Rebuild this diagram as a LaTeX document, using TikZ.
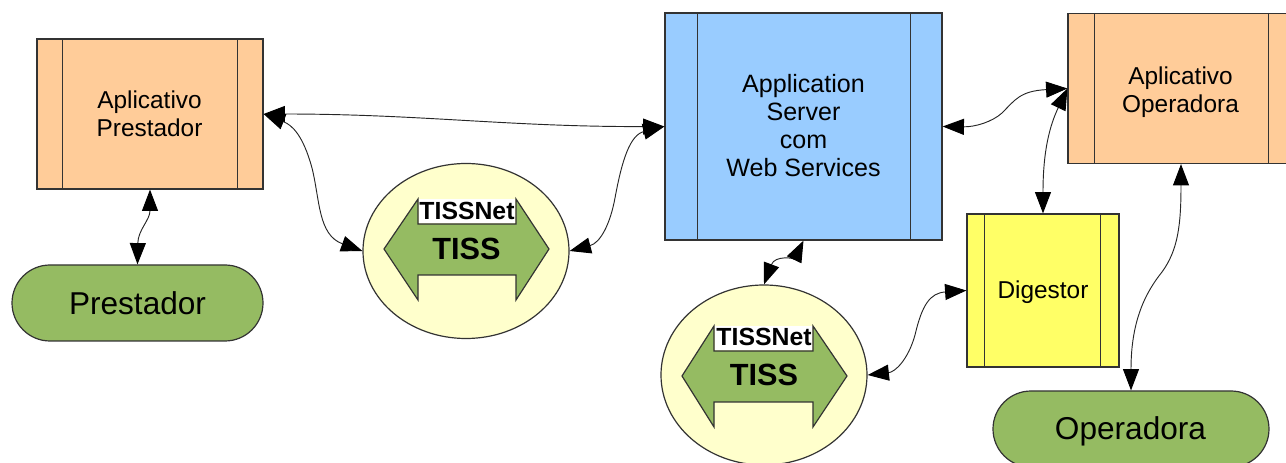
\documentclass[tikz,border=0pt]{standalone}
\usepackage{fontspec}
\setmainfont{Liberation Sans}
\usetikzlibrary{arrows.meta,shapes.geometric,shapes.misc,calc}
\definecolor{orangebox}{HTML}{FFCC99}
\definecolor{bluebox}{HTML}{99CCFF}
\definecolor{yellowbox}{HTML}{FFFF66}
\definecolor{creamfill}{HTML}{FFFFCC}
\definecolor{greenfill}{HTML}{95BB62}
\definecolor{edgegrey}{HTML}{333333}
\newcommand{\sidebars}[3]{\draw[boxedge] ($(#1.north west)+(#2,0)$) -- ($(#1.south west)+(#2,0)$);
  \draw[boxedge] ($(#1.north east)-(#3,0)$) -- ($(#1.south east)-(#3,0)$);}
\tikzset{
  x=0.75pt,y=-0.75pt,
  boxedge/.style={draw=edgegrey,line width=0.9pt},
  procbox/.style={boxedge,rectangle,inner sep=0pt,align=center},
  boxtext/.style={inner sep=0pt,align=center,font=\fontsize{18.3}{21}\selectfont},
  pill/.style={boxedge,rounded rectangle,fill=greenfill,inner sep=0pt},
  pilltext/.style={inner sep=0pt,font=\fontsize{23.7}{28}\selectfont},
  bubble/.style={draw=edgegrey,line width=0.9pt,ellipse,fill=creamfill,inner sep=0pt},
  link/.style={draw=black!85,line width=0.7pt,{Triangle[length=16pt,width=12pt,color=black]}-{Triangle[length=16pt,width=12pt,color=black]}},
  netlabel/.style={font=\fontsize{18.6}{20}\bfseries\selectfont,inner sep=0pt},
  tisslabel/.style={font=\fontsize{23}{26}\bfseries\selectfont,inner sep=0pt},
  band/.style={draw=edgegrey,line width=0.9pt,fill=greenfill,line join=miter},
}
\begin{document}
\begin{tikzpicture}
\useasboundingbox (0,0) rectangle (1286,463);
\clip (0,0) rectangle (1286,463);
% boxes
\node[procbox,fill=orangebox,minimum width=169.5pt,minimum height=112.5pt] (ap) at (150,114) {};
\node[procbox,fill=bluebox,minimum width=207.75pt,minimum height=170.25pt] (as) at (803.5,126.5) {};
\node[procbox,fill=orangebox,minimum width=169.5pt,minimum height=112.5pt] (ao) at (1181,88.5) {};
\node[procbox,fill=yellowbox,minimum width=114pt,minimum height=114.75pt] (dg) at (1043,290.5) {};
\sidebars{ap}{26}{26}
\sidebars{as}{33}{32}
\sidebars{ao}{27}{26}
\sidebars{dg}{18}{19}
\node[boxtext] (aptext) at (149.5,114) {Aplicativo\\Prestador};
\node[boxtext,font=\fontsize{18.8}{21}\selectfont] (astext) at (803.5,126) {Application\\Server\\com\\Web Services};
\node[boxtext] (aotext) at (1180.5,92) {Aplicativo\\Operadora};
\node[boxtext] (dgtext) at (1043,292) {Digestor};
% pills
\node[pill,minimum width=188.25pt,minimum height=57pt] (pr) at (137.5,303) {};
\node[pill,minimum width=207pt,minimum height=57pt] (op) at (1131,429) {};
\node[pilltext] (prtext) at (137.5,303) {Prestador};
\node[pilltext] (optext) at (1130.5,431) {Operadora};
% bubbles
\node[bubble,minimum width=154.5pt,minimum height=131.25pt] (c1) at (466,251) {};
\node[bubble,minimum width=154.5pt,minimum height=135pt] (c2) at (764,375) {};
% double arrow in bubble 1
\draw[band] (384,249) -- (418,199) -- (418,224) -- (516,224) -- (516,199) -- (549,249) -- (516,300) -- (516,275) -- (418,275) -- (418,300) -- cycle;
\fill[white] (418.6,199) rectangle (515.4,223.4);
\node[netlabel] (n1) at (467,211) {TISSNet};
\node[tisslabel] (t1) at (466.5,249) {TISS};
% double arrow in bubble 2
\draw[band] (682,376) -- (714,326) -- (714,351) -- (813,351) -- (813,326) -- (847,376) -- (813,427) -- (813,402) -- (714,402) -- (714,427) -- cycle;
\fill[white] (714.6,326) rectangle (812.4,350.4);
\node[netlabel] (n2) at (764,337) {TISSNet};
\node[tisslabel] (t2) at (764,375) {TISS};
% connectors
\draw[link] (ap.east) .. controls (420,114) and (510,127) .. (as.west);
\draw[link] (ap.east) .. controls (292,125) and (303,135) .. (312,168) .. controls (320,200) and (318,235) .. (c1.west);
\draw[link] (c1.east) .. controls (600,243) and (610,225) .. (615,198) .. controls (622,160) and (630,135) .. (as.west);
\draw[link] (ap.south) .. controls (150,220) and (138,230) .. (pr.north);
\draw[link] (as.south) .. controls (795,258) and (775,255) .. (c2.north);
\draw[link] (c2.east) .. controls (895,372) and (908,360) .. (915,335) .. controls (922,305) and (930,293) .. (dg.west);
\draw[link] (as.east) .. controls (975,127) and (992,122) .. (1002,113) .. controls (1015,100) and (1020,91) .. (ao.west);
\draw[link] (ao.west) .. controls (1050,125) and (1043,150) .. (dg.north);
\draw[link] (ao.south) .. controls (1181,225) and (1178,250) .. (1162,272) .. controls (1146,292) and (1131,320) .. (op.north);
\end{tikzpicture}
\end{document}
